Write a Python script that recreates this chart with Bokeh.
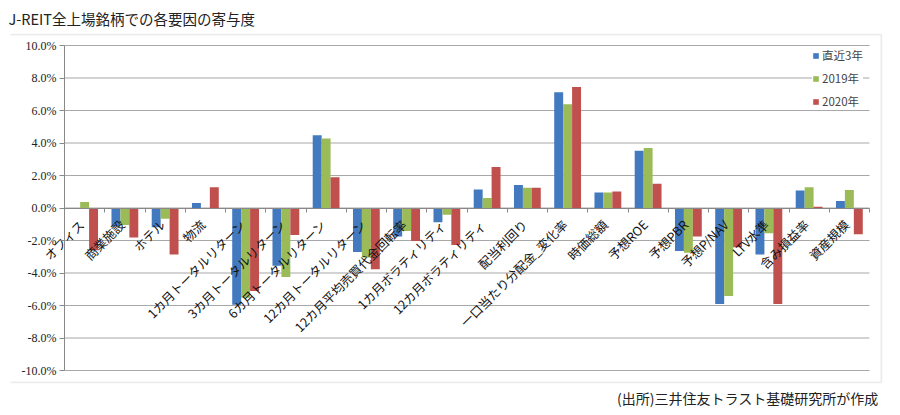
import math
import numpy as np
from bokeh.plotting import figure
from bokeh.models import (ColumnDataSource, Range1d, FixedTicker, PrintfTickFormatter,
                          Legend, LegendItem, Title, BoxAnnotation)
from bokeh.transform import dodge
from bokeh.embed import file_html
from bokeh.resources import INLINE

# ---- data (percent) ----
categories = ["オフィス", "商業施設", "ホテル", "物流",
              "1カ月トータルリターン", "3カ月トータルリターン", "6カ月トータルリターン",
              "12カ月トータルリターン", "12カ月平均売買代金回転率",
              "1カ月ボラティリティ", "12カ月ボラティリティ", "配当利回り",
              "一口当たり分配金_変化率", "時価総額", "予想ROE", "予想PBR",
              "予想P/NAV", "LTV水準", "含み損益率", "資産規模"]
recent3 = [-0.05, -1.14, -1.18, 0.31, -5.95, -3.56, 4.48, -2.70, -1.76, -0.88,
           1.14, 1.41, 7.12, 0.95, 3.53, -2.64, -5.90, -2.86, 1.07, 0.43]
y2019 = [0.37, -1.04, -0.66, 0.0, -5.53, -4.24, 4.27, -3.05, -1.41, -0.42,
         0.62, 1.24, 6.38, 0.95, 3.69, -2.75, -5.41, -1.55, 1.28, 1.11]
y2020 = [-2.60, -1.82, -2.86, 1.28, -5.10, -1.66, 1.89, -3.77, -2.03, -2.28,
         2.52, 1.24, 7.45, 1.01, 1.50, -1.76, -2.42, -5.90, 0.08, -1.62]
series_names = ["直近3年", "2019年", "2020年"]
y_ticks = [-10, -8, -6, -4, -2, 0, 2, 4, 6, 8, 10]
title_text = "J-REIT全上場銘柄での各要因の寄与度"
source_text = "(出所)三井住友トラスト基礎研究所が作成"

colors = ["#4279BF", "#9BBB59", "#C0504D"]
JP = "Noto Sans CJK JP"

n = len(categories)
src = ColumnDataSource(dict(
    xc=np.arange(n) + 0.5,
    cat=categories,
    s0=recent3, s1=y2019, s2=y2020,
    zero=[0.0] * n,
))
grid_src = ColumnDataSource(dict(y=y_ticks, x0=[0] * len(y_ticks), x1=[n] * len(y_ticks)))

# frame spans the chart box (canvas x 10..882, y 33..383);
# category area occupies x 64..869, value area y 45..370
px_per_cat = (869 - 64) / n
px_per_pct = (370 - 45) / 20.0
x_lo = -(64 - 10) / px_per_cat
x_hi = n + (882 - 869) / px_per_cat
y_hi = 10 + (45 - 33) / px_per_pct
y_lo = -10 - (383 - 370) / px_per_pct

p = figure(width=900, height=415, output_backend="svg", toolbar_location=None,
           x_range=Range1d(x_lo, x_hi), y_range=Range1d(y_lo, y_hi),
           min_border_left=10, min_border_right=18, min_border_top=33,
           min_border_bottom=32)
p.outline_line_color = None
p.background_fill_color = "white"
p.xgrid.visible = False
p.ygrid.visible = False

# gridlines across the category area only
p.segment(x0="x0", x1="x1", y0="y", y1="y", source=grid_src,
          line_color="#A8A8A8", line_width=1.2)

# y axis at x=0
p.yaxis.fixed_location = 0
p.yaxis.bounds = (-10, 10)
p.yaxis.ticker = FixedTicker(ticks=y_ticks)
p.yaxis.formatter = PrintfTickFormatter(format="%.1f%%")
p.yaxis.major_label_text_font = "Liberation Serif"
p.yaxis.major_label_text_font_size = "12px"
p.yaxis.major_label_text_color = "#222222"
p.yaxis.axis_line_color = "#888888"
p.yaxis.major_tick_line_color = "#888888"
p.yaxis.major_tick_out = 5
p.yaxis.major_tick_in = 0
p.yaxis.minor_tick_line_color = None
p.yaxis.major_label_standoff = 3

# category axis at y=0
p.xaxis.fixed_location = 0
p.xaxis.bounds = (0, n)
p.xaxis.ticker = FixedTicker(ticks=list(range(n + 1)))
p.xaxis.major_label_overrides = {i: "" for i in range(n + 1)}
p.xaxis.major_tick_out = 4
p.xaxis.major_tick_in = 0
p.xaxis.minor_tick_line_color = None
p.xaxis.axis_line_color = "#888888"
p.xaxis.major_tick_line_color = "#888888"

bw = 0.222
renderers = []
for i, (col, c) in enumerate(zip(["s0", "s1", "s2"], colors)):
    r = p.vbar(x=dodge("xc", (i - 1) * bw, range=p.x_range), top=col, bottom=0,
               width=bw, source=src, fill_color=c, line_color=None)
    renderers.append(r)

# category labels
p.text(x="xc", y="zero", text="cat", source=src, angle=math.pi / 4,
       text_align="right", text_baseline="middle", x_offset=-3, y_offset=14,
       text_font={"value": JP}, text_font_size="12.5px", text_color="#111111")

legend = Legend(items=[LegendItem(label=nm, renderers=[r]) for nm, r in zip(series_names, renderers)],
                location=(802, 274), background_fill_color="white", background_fill_alpha=1,
                border_line_color=None, padding=5, spacing=7, glyph_width=7, glyph_height=7,
                label_height=13, label_standoff=3, label_text_font=JP,
                label_text_font_size="11.5px", margin=0)
p.add_layout(legend)

# chart box (top, right, bottom edges; left edge falls outside the frame)
p.add_layout(BoxAnnotation(left=x_lo - 5, right=x_hi - 0.025, top=y_hi - 0.06, bottom=y_lo + 0.06,
                           fill_color=None, line_color="#BFBFBF", line_width=2))

p.title.text = title_text
p.title.align = "left"
p.title.text_font = JP
p.title.text_font_size = "14.5px"
p.title.text_font_style = "normal"
p.title.text_color = "#222222"
p.title.offset = -2
p.title.standoff = 9

p.add_layout(Title(text=source_text, align="right", text_font=JP, text_font_size="14px",
                   text_font_style="normal", text_color="#222222", offset=4, standoff=5),
             "below")

open("out.html", "w").write(file_html(p, INLINE))
